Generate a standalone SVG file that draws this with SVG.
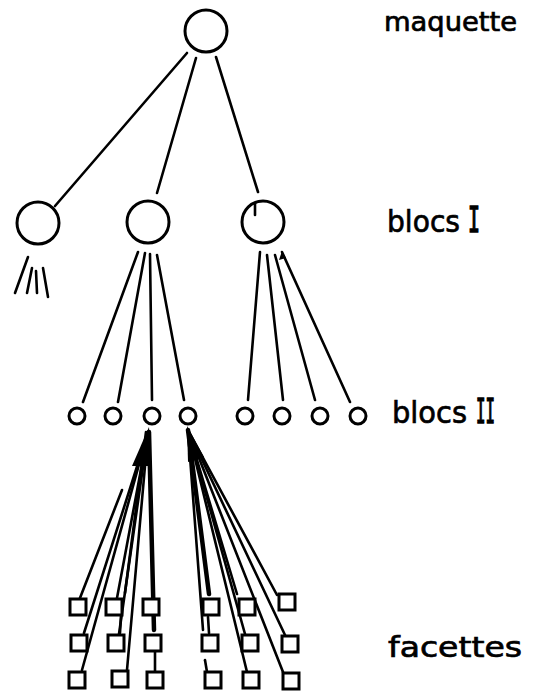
<svg xmlns="http://www.w3.org/2000/svg" width="535" height="693" viewBox="0 0 535 693">
<style>
.n{fill:none;stroke:#000;stroke-width:3}
.s{fill:#fff;stroke:#000;stroke-width:3}
.c line{stroke:#000;stroke-width:2.6;stroke-linecap:round}
.t{font-family:"DejaVu Sans",sans-serif;fill:#000;stroke:#000;stroke-width:0.7}
.m{font-family:"DejaVu Sans Mono",monospace;stroke-width:1.4}
</style>
<rect width="535" height="693" fill="#fff"/>
<g class="c" id="connectors">
<line x1="187" y1="53" x2="55" y2="206"/>
<line x1="196" y1="58" x2="157" y2="193"/>
<line x1="216" y1="57" x2="258" y2="192"/>
<line x1="255" y1="203" x2="255" y2="215"/>
<line x1="28" y1="257" x2="15" y2="293"/>
<line x1="32" y1="268" x2="27" y2="293"/>
<line x1="36" y1="271" x2="37" y2="293"/>
<line x1="43" y1="268" x2="48" y2="297"/>
<line x1="138" y1="252" x2="83" y2="402"/>
<line x1="145" y1="253" x2="118" y2="402"/>
<line x1="150" y1="254" x2="152" y2="400"/>
<line x1="157" y1="255" x2="184" y2="400"/>
<line x1="260" y1="252" x2="248" y2="400"/>
<line x1="267" y1="255" x2="283" y2="400"/>
<line x1="275" y1="255" x2="315" y2="400"/>
<line x1="282" y1="252" x2="350" y2="402"/>
<polygon points="282,251 279,260 286,258" fill="#000"/>
<line x1="122" y1="490" x2="80" y2="598"/>
<line x1="148" y1="432" x2="84" y2="633"/>
<line x1="148" y1="432" x2="82" y2="670"/>
<line x1="148" y1="432" x2="117" y2="598"/>
<line x1="146" y1="432" x2="125" y2="593"/>
<line x1="148" y1="432" x2="119" y2="634"/>
<line x1="148" y1="432" x2="127" y2="670"/>
<line x1="149" y1="432" x2="154" y2="630" style="stroke-width:4.5"/>
<line x1="121" y1="615" x2="120" y2="633"/>
<line x1="155" y1="652" x2="155" y2="672"/>
<polygon points="149,427 132,466 151,466" fill="#000"/>
<line x1="188" y1="430" x2="209" y2="594" style="stroke-width:4.5"/>
<line x1="188" y1="430" x2="203" y2="630"/>
<line x1="208" y1="617" x2="209" y2="633"/>
<line x1="205" y1="660" x2="207" y2="672"/>
<line x1="188" y1="430" x2="237" y2="594"/>
<line x1="188" y1="430" x2="245" y2="634"/>
<line x1="188" y1="430" x2="247" y2="672"/>
<line x1="188" y1="430" x2="277" y2="595"/>
<line x1="188" y1="430" x2="285" y2="635"/>
<line x1="188" y1="430" x2="283" y2="672"/>
<polygon points="187,426 188,462 204,457" fill="#000"/>
</g>
<g id="maquette"><circle class="n" cx="206" cy="31" r="21"/></g>
<g id="blocI-1"><circle class="n" cx="38" cy="223" r="21"/></g>
<g id="blocI-2"><circle class="n" cx="148" cy="222" r="21"/></g>
<g id="blocI-3"><circle class="n" cx="263" cy="222" r="21"/></g>
<g id="blocII-1"><circle class="s" cx="77" cy="416" r="8"/></g>
<g id="blocII-2"><circle class="s" cx="113" cy="416" r="8"/></g>
<g id="blocII-3"><circle class="s" cx="152" cy="416" r="8"/></g>
<g id="blocII-4"><circle class="s" cx="188" cy="416" r="8"/></g>
<g id="blocII-5"><circle class="s" cx="245" cy="416" r="8"/></g>
<g id="blocII-6"><circle class="s" cx="282" cy="416" r="8"/></g>
<g id="blocII-7"><circle class="s" cx="320" cy="416" r="8"/></g>
<g id="blocII-8"><circle class="s" cx="358" cy="416" r="8"/></g>
<g id="f11"><rect class="s" x="70" y="599" width="16" height="16"/></g>
<g id="f21"><rect class="s" x="106" y="599" width="16" height="16"/></g>
<g id="f31"><rect class="s" x="143" y="599" width="16" height="16"/></g>
<g id="f41"><rect class="s" x="203" y="599" width="16" height="16"/></g>
<g id="f51"><rect class="s" x="239" y="599" width="16" height="16"/></g>
<g id="f61"><rect class="s" x="279" y="594" width="16" height="16"/></g>
<g id="f12"><rect class="s" x="71" y="635" width="16" height="16"/></g>
<g id="f22"><rect class="s" x="108" y="635" width="16" height="16"/></g>
<g id="f32"><rect class="s" x="145" y="635" width="16" height="16"/></g>
<g id="f42"><rect class="s" x="202" y="635" width="16" height="16"/></g>
<g id="f52"><rect class="s" x="242" y="635" width="16" height="16"/></g>
<g id="f62"><rect class="s" x="282" y="636" width="16" height="16"/></g>
<g id="f13"><rect class="s" x="69" y="672" width="16" height="16"/></g>
<g id="f23"><rect class="s" x="112" y="671" width="16" height="16"/></g>
<g id="f33"><rect class="s" x="147" y="672" width="16" height="16"/></g>
<g id="f43"><rect class="s" x="205" y="672" width="16" height="16"/></g>
<g id="f53"><rect class="s" x="243" y="672" width="16" height="16"/></g>
<g id="f63"><rect class="s" x="283" y="673" width="16" height="16"/></g>
<g id="labels">
<text class="t" x="384" y="31" font-size="26" textLength="133" lengthAdjust="spacingAndGlyphs">maquette</text>
<text class="t" x="387" y="232" font-size="31" textLength="73" lengthAdjust="spacingAndGlyphs">blocs</text>
<text class="t m" x="468" y="232" font-size="36" textLength="12" lengthAdjust="spacingAndGlyphs">I</text>
<text class="t" x="392" y="423" font-size="31" textLength="75" lengthAdjust="spacingAndGlyphs">blocs</text>
<text class="t m" x="476" y="423" font-size="34" textLength="19" lengthAdjust="spacingAndGlyphs">II</text>
<text class="t" x="388" y="657" font-size="28" textLength="134" lengthAdjust="spacingAndGlyphs">facettes</text>
</g>
</svg>
